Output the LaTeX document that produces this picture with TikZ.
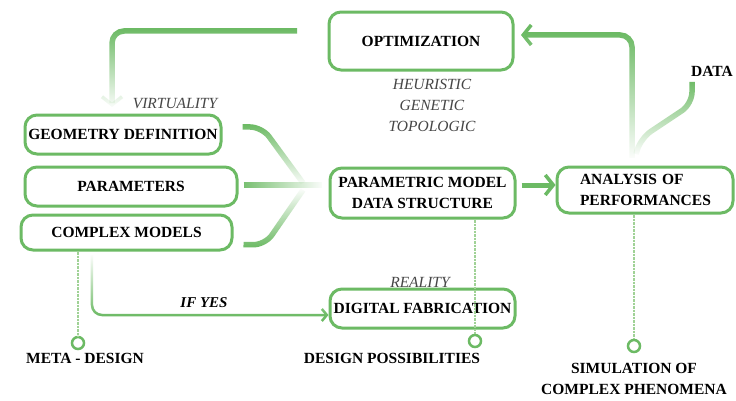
\documentclass[tikz,border=0pt]{standalone}
\usepackage{fontspec}
\setmainfont{Liberation Serif}
\usetikzlibrary{fadings,arrows.meta}
\definecolor{gr}{RGB}{108,186,100}
\definecolor{lgr}{RGB}{160,210,150}
\definecolor{labgray}{RGB}{70,70,70}
\tikzset{
  box/.style={draw=gr, line width=3pt, rounded corners=12pt, inner sep=0pt,
    font=\fontsize{15.5}{21}\selectfont\bfseries, fill=white},
  lab/.style={inner sep=0pt, font=\fontsize{15.5}{21}\selectfont\bfseries, align=center},
  ital/.style={inner sep=0pt, font=\fontsize{15.5}{21}\selectfont\itshape, text=labgray, align=center},
  conn/.style={draw=gr, line width=5.5pt, rounded corners=12pt},
  thinconn/.style={draw=gr, line width=2.5pt, rounded corners=10pt},
  dotline/.style={draw=lgr, line width=2.2pt, dash pattern=on 1pt off 0.4pt},
  endcirc/.style={circle, draw=gr, line width=2.5pt, minimum size=12pt, inner sep=0pt, fill=white},
  barb/.style={-{Straight Barb[length=8pt,width=20pt,line width=3.5pt]}},
  thinbarb/.style={-{Straight Barb[length=5pt,width=12pt,line width=2.5pt]}}
}
\begin{document}
\begin{tikzpicture}[x=1pt,y=-1pt]
\useasboundingbox (0,0) rectangle (736,400);
\fill[white] (0,0) rectangle (736,400);

% boxes
\node[box, minimum width=184pt, minimum height=58pt] (opt) at (421,41) {OPTIMIZATION};
\node[box, minimum width=196pt, minimum height=39pt] (geo) at (123,134.5) {GEOMETRY DEFINITION};
\node[box, minimum width=212pt, minimum height=39pt] (par) at (131,186.5) {PARAMETERS};
\node[box, minimum width=211pt, minimum height=35pt] (cpx) at (126.5,232.5) {COMPLEX MODELS};
\node[box, minimum width=185pt, minimum height=50pt, align=center] (pm) at (422.5,193) {PARAMETRIC MODEL\\DATA STRUCTURE};
\node[box, minimum width=176pt, minimum height=46pt, align=left, text width=130pt] (ana) at (645,190) {ANALYSIS OF\\PERFORMANCES};
\node[box, minimum width=185pt, minimum height=39pt] (fab) at (422.5,308.5) {DIGITAL FABRICATION};

% labels
\node[ital] (heur) at (432,105) {HEURISTIC\\GENETIC\\TOPOLOGIC};
\node[ital] (virt) at (175,103) {VIRTUALITY};
\node[ital] (real) at (420,282) {REALITY};
\node[lab, font=\fontsize{15}{21}\selectfont\bfseries\itshape] (ifyes) at (204,303) {IF YES};
\node[lab] (data) at (712,71) {DATA};
\node[lab] (meta) at (85,358) {META - DESIGN};
\node[lab] (dposs) at (392,358) {DESIGN POSSIBILITIES};
\node[lab] (sim) at (634,379) {SIMULATION OF\\COMPLEX PHENOMENA};

% end circles
\node[endcirc] (c1) at (78,343) {};
\node[endcirc] (c2) at (475,341) {};
\node[endcirc] (c3) at (634,346) {};

% coordinates for free ends
\coordinate (optL) at (297,31);
\coordinate (geoIn) at (112,107);
\coordinate (anaTop) at (632,158);
\coordinate (optR) at (521,35);
\coordinate (dataB) at (692,82);
\coordinate (merge) at (322,185);

% dotted lines
\draw[dotline] (cpx.south -| c1) -- (c1.north);
\draw[dotline] (pm.south -| c2) -- (c2.north);
\draw[dotline] (ana.south -| c3) -- (c3.north);

% optimization to geometry
\draw[conn, barb, path fading=south] (optL) -- (112,31) -- (geoIn);
% analysis to optimization
\draw[conn, barb, path fading=south] (anaTop) -- (632,35) -- (optR);
% data
\draw[conn, path fading=south] (dataB) -- (692,104) -- (641,138) -- (636,154);
% inputs to parametric model
\draw[conn, path fading=south] (geo.east |- 0,127) ++(20,0) -- (262,127) -- (303,183);
\draw[conn, path fading=east] (par.east) ++(5,-1.5) -- (merge);
\draw[conn, path fading=north] (cpx.east) ++(10,12) -- (265,245) -- (303,190);
% parametric model to analysis
\draw[conn, barb, line width=5pt] (pm.east) ++(5,-8) -- (ana.west |- 0,185);
% if yes
\draw[thinconn, thinbarb, path fading=north] (92,255) -- (92,315) -- (fab.west |- 0,315);
\end{tikzpicture}
\end{document}
